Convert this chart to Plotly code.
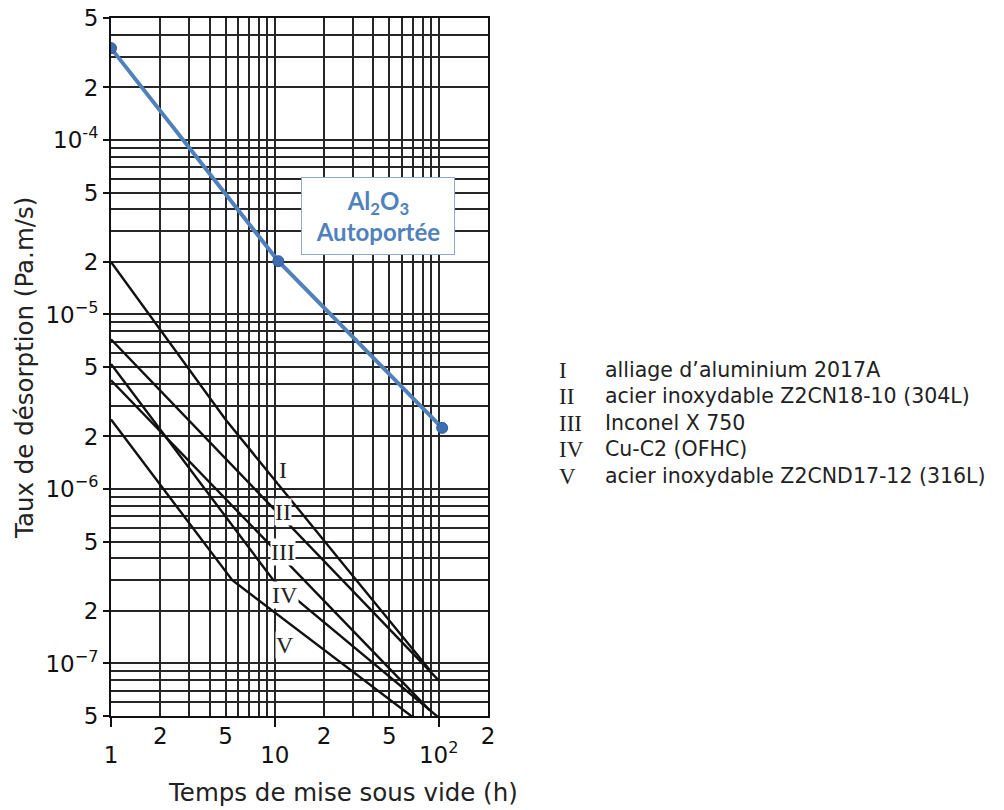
import plotly.graph_objects as go
import math

# ---------------- data ----------------
al2o3_t = [1, 10.5, 105]
al2o3_rate = [3.36e-4, 2.02e-5, 2.24e-6]

c1_t = [1, 5, 25, 88]
c1_rate = [2.0e-5, 2.5e-6, 3.9e-7, 9.2e-8]
c2_t = [1, 100]
c2_rate = [7.2e-6, 8.0e-8]
c3_t = [1, 88]
c3_rate = [4.2e-6, 5.4e-8]
c4_t = [1, 9.8, 100]
c4_rate = [5.2e-6, 3.0e-7, 4.9e-8]
c5_t = [1, 5.5, 70]
c5_rate = [2.5e-6, 3.0e-7, 4.9e-8]

curve_labels = ["I", "II", "III", "IV", "V"]
materials = [
    "alliage d\u2019aluminium 2017A",
    "acier inoxydable Z2CN18-10 (304L)",
    "Inconel X 750",
    "Cu-C2 (OFHC)",
    "acier inoxydable Z2CND17-12 (316L)",
]

x_dec_vals = [1, 10, 100]
x_dec_text = ["1", "10", "10<sup>2</sup>"]
x_mid_vals = [2, 5, 20, 50, 200]
x_mid_text = ["2", "5", "2", "5", "2"]

y_tick_vals = [5e-4, 2e-4, 1e-4, 5e-5, 2e-5, 1e-5, 5e-6, 2e-6, 1e-6,
               5e-7, 2e-7, 1e-7, 5e-8]
y_tick_text = ["5", "2", "10<sup>-4</sup>", "5", "2", "10<sup>\u22125</sup>",
               "5", "2", "10<sup>\u22126</sup>", "5", "2",
               "10<sup>\u22127</sup>", "5"]

# ---------------- grid positions ----------------
EPS = 1e-6
x_range = [math.log10(1) - EPS, math.log10(200) + EPS]
y_range = [math.log10(5e-8) - EPS, math.log10(5e-4) + EPS]
x_minor = [k * 10 ** d for d in range(0, 3) for k in range(2, 10)
           if k * 10 ** d <= 200]
y_minor = [k * 10.0 ** d for d in range(-8, -3) for k in (3, 4, 6, 7, 8, 9)
           if 5e-8 <= k * 10.0 ** d <= 5e-4]

GRID = "#262626"
BLUE = "rgb(79,129,189)"
FONT = "DejaVu Sans, Liberation Sans, sans-serif"
SERIF = "Liberation Serif, DejaVu Serif, serif"

W, H = 1004, 810                # figure size (page body margin removed)
L, R, T, B = 111, 488, 18, 716  # plot area in page pixels
PW, PH = R - L, B - T


def px(xp):
    return (xp - L) / PW


def py(yp):
    return (B - yp) / PH


fig = go.Figure()

for t, r in [(c1_t, c1_rate), (c2_t, c2_rate), (c3_t, c3_rate),
             (c4_t, c4_rate), (c5_t, c5_rate)]:
    fig.add_trace(go.Scatter(x=t, y=r, mode="lines",
                             line=dict(color="#111111", width=2.4),
                             showlegend=False, hoverinfo="skip"))

fig.add_trace(go.Scatter(x=al2o3_t, y=al2o3_rate, mode="lines+markers",
                         line=dict(color=BLUE, width=4),
                         marker=dict(size=11, color="#3d6db3",
                                     line=dict(color="#2c5a98", width=1)),
                         showlegend=False, hoverinfo="skip"))

# invisible trace to carry the secondary tick-label axis
fig.add_trace(go.Scatter(x=[x_mid_vals[0]], y=[y_tick_vals[1]], xaxis="x2",
                         mode="markers", marker=dict(opacity=0),
                         showlegend=False, hoverinfo="skip"))

tickfont = dict(family=FONT, size=23, color="#111")

fig.update_layout(
    width=W, height=H, autosize=False,
    margin=dict(l=L, r=W - R, t=T, b=H - B, autoexpand=False),
    paper_bgcolor="white", plot_bgcolor="white",
    showlegend=False,
    xaxis=dict(type="log", range=x_range, automargin=False,
               tickmode="array", tickvals=x_dec_vals, ticktext=x_dec_text,
               ticks="outside", ticklen=9, tickwidth=2, tickcolor="#111",
               ticklabelstandoff=8, ticklabeloverflow="allow",
               showgrid=True, gridcolor=GRID, gridwidth=1.6,
               minor=dict(tickmode="array", tickvals=x_minor, showgrid=True,
                          gridcolor=GRID, gridwidth=1.6, ticks=""),
               showline=True, linecolor="#111", linewidth=2, mirror=True,
               zeroline=False, tickfont=tickfont),
    xaxis2=dict(type="log", range=x_range, overlaying="x", side="bottom",
                anchor="y", automargin=False, ticklabeloverflow="allow",
                tickmode="array", tickvals=x_mid_vals,
                ticktext=x_mid_text, ticks="", showgrid=False,
                showline=False, zeroline=False, ticklabelstandoff=4,
                tickfont=tickfont),
    yaxis=dict(type="log", range=y_range, automargin=False,
               tickmode="array", tickvals=y_tick_vals, ticktext=y_tick_text,
               ticks="outside", ticklen=6, tickwidth=2, tickcolor="#111",
               ticklabeloverflow="allow",
               showgrid=True, gridcolor=GRID, gridwidth=1.6,
               minor=dict(tickmode="array", tickvals=y_minor, showgrid=True,
                          gridcolor=GRID, gridwidth=1.6, ticks=""),
               showline=True, linecolor="#111", linewidth=2, mirror=True,
               zeroline=False, tickfont=tickfont),
)

annotations = []
# Al2O3 box
annotations.append(dict(
    xref="paper", yref="paper", x=px(378), y=py(216),
    xanchor="center", yanchor="middle",
    text="<b>Al<sub>2</sub>O<sub>3</sub><br>Autoportée</b>",
    showarrow=False, font=dict(family="Lato, Open Sans, sans-serif",
                               size=24, color=BLUE),
    bgcolor="white", bordercolor="#8eaad0", borderwidth=1,
    width=150, height=74, align="center"))

# roman labels on the curves (log10 coordinates)
label_pos = [(1.050, -5.891), (1.050, -6.132), (1.050, -6.361),
             (1.062, -6.608), (1.062, -6.894)]
for lab, (lx, ly) in zip(curve_labels, label_pos):
    annotations.append(dict(
        xref="x", yref="y", x=lx, y=ly, text=lab, showarrow=False,
        xanchor="center", yanchor="middle",
        font=dict(family=SERIF, size=24, color="#222"),
        bgcolor="white", borderpad=0))

# right-hand legend
row_px = [370, 396, 423, 449, 476]
for lab, mat, yp in zip(curve_labels, materials, row_px):
    annotations.append(dict(
        xref="paper", yref="paper", x=px(557), y=py(yp),
        xanchor="left", yanchor="middle", text=lab, showarrow=False,
        font=dict(family=SERIF, size=23, color="#222")))
    annotations.append(dict(
        xref="paper", yref="paper", x=px(603), y=py(yp),
        xanchor="left", yanchor="middle", text=mat, showarrow=False,
        font=dict(family=FONT, size=20.5, color="#222")))

# axis titles
annotations.append(dict(
    xref="paper", yref="paper", x=px(24), y=py(368),
    text="Taux de désorption (Pa.m/s)", textangle=-90, showarrow=False,
    xanchor="center", yanchor="middle",
    font=dict(family=FONT, size=24.5, color="#222")))
annotations.append(dict(
    xref="paper", yref="paper", x=px(343), y=py(792),
    text="Temps de mise sous vide (h)", showarrow=False,
    xanchor="center", yanchor="middle",
    font=dict(family=FONT, size=24.5, color="#222")))

fig.update_layout(annotations=annotations)

fig.write_html(
    "out.html",
    config={"displayModeBar": False},
    post_script="document.body.style.margin='0';"
                "document.body.style.overflow='hidden';")
